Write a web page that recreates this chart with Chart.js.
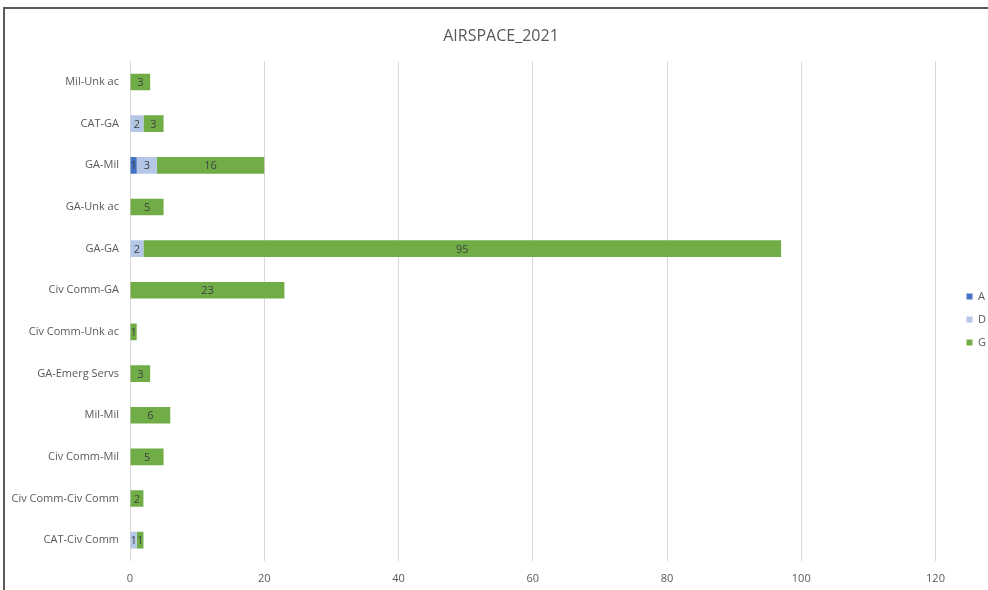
<!DOCTYPE html>
<html>
<head>
<meta charset="utf-8">
<script src="https://cdn.jsdelivr.net/npm/chart.js@4/dist/chart.umd.min.js"></script>
<style>
  html, body { margin: 0; padding: 0; background: #fff; }
  #frame {
    position: absolute; left: 3px; top: 7px;
    width: 985px; height: 583px;
    border-top: 2px solid #5a5a5a; border-left: 2px solid #5a5a5a;
  }
  #wrap { position: relative; width: 983px; height: 581px; }
</style>
</head>
<body>
<div id="frame"><div id="wrap"><canvas id="airChart"></canvas></div></div>
<script>
// Encounter pairings, listed top to bottom
const categories = [
    'Mil-Unk ac', 'CAT-GA', 'GA-Mil', 'GA-Unk ac', 'GA-GA', 'Civ Comm-GA',
    'Civ Comm-Unk ac', 'GA-Emerg Servs', 'Mil-Mil', 'Civ Comm-Mil',
    'Civ Comm-Civ Comm', 'CAT-Civ Comm'
];
// Airspace class counts
const classA = [0, 0, 1, 0, 0, 0, 0, 0, 0, 0, 0, 0];
const classD = [0, 2, 3, 0, 2, 0, 0, 0, 0, 0, 0, 1];
const classG = [3, 3, 16, 5, 95, 23, 1, 3, 6, 5, 2, 1];
const xTicks = [0, 20, 40, 60, 80, 100, 120];

const fontFamily = '"Open Sans", "Noto Sans", sans-serif';
const greyText = '#595959';

// Writes each segment's value in the middle of the segment
const barValues = {
    id: 'barValues',
    afterDatasetsDraw(chart) {
        const ctx = chart.ctx;
        ctx.save();
        ctx.font = '11px ' + fontFamily;
        ctx.fillStyle = '#404040';
        ctx.textAlign = 'center';
        ctx.textBaseline = 'middle';
        chart.data.datasets.forEach((ds, i) => {
            chart.getDatasetMeta(i).data.forEach((bar, j) => {
                const v = ds.data[j];
                if (!v) return;
                const x = (bar.x + bar.base) / 2;
                ctx.fillText(String(v), x, bar.y + 1);
            });
        });
        ctx.restore();
    }
};

// Nudges the legend away from the plot and re-centres the title
const placeBoxes = {
    id: 'placeBoxes',
    afterLayout(chart) {
        const lg = chart.legend;
        const dx = (chart.chartArea.right + 19) - lg.left;
        lg.left += dx; lg.right += dx;
        lg.top += 20; lg.bottom += 20;
        const tb = chart.titleBlock;
        tb.left += 10; tb.right += 10;
    }
};

new Chart(document.getElementById('airChart').getContext('2d'), {
    type: 'bar',
    data: {
        labels: categories,
        datasets: [
            { label: 'A', data: classA, backgroundColor: '#4472C4' },
            { label: 'D', data: classD, backgroundColor: '#B4C7E7' },
            { label: 'G', data: classG, backgroundColor: '#70AD47' }
        ]
    },
    options: {
        indexAxis: 'y',
        responsive: true,
        maintainAspectRatio: false,
        animation: false,
        layout: { padding: { left: 0, right: 11, top: 0, bottom: 0 } },
        datasets: { bar: { barPercentage: 0.4, categoryPercentage: 1 } },
        scales: {
            x: {
                stacked: true,
                min: 0,
                max: 120,
                afterBuildTicks: (axis) => { axis.ticks = xTicks.map(v => ({ value: v })); },
                afterFit: (axis) => { axis.height = 29; },
                grid: { color: '#d9d9d9', drawTicks: false },
                border: { display: false },
                ticks: { color: greyText, padding: 11, font: { family: fontFamily, size: 11 } }
            },
            y: {
                stacked: true,
                afterFit: (axis) => { axis.width = 125; },
                grid: { display: false },
                border: { display: false },
                ticks: { color: greyText, padding: 3, font: { family: fontFamily, size: 11 } }
            }
        },
        plugins: {
            title: {
                display: true,
                text: 'AIRSPACE_2021',
                color: greyText,
                font: { family: fontFamily, size: 16, weight: 'normal' },
                padding: { top: 18, bottom: 15 }
            },
            legend: {
                position: 'right',
                labels: {
                    boxWidth: 6,
                    boxHeight: 6,
                    padding: 12,
                    color: greyText,
                    font: { family: fontFamily, size: 11 }
                }
            },
            tooltip: { enabled: false }
        }
    },
    plugins: [barValues, placeBoxes]
});
</script>
</body>
</html>
